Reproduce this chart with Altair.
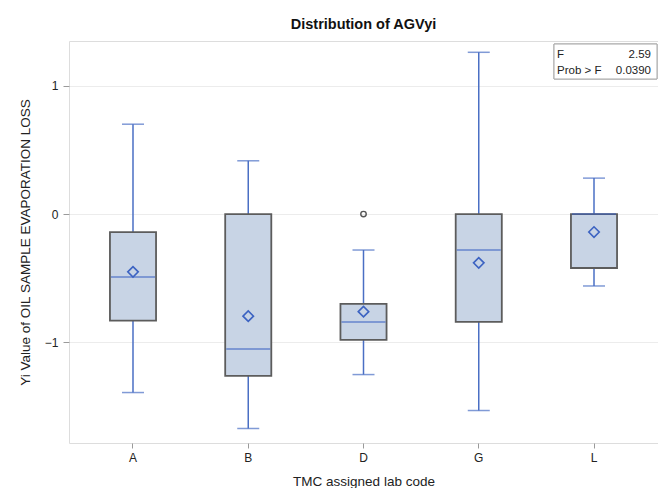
import altair as alt
import pandas as pd

# ---- data ----
labs = ["A", "B", "D", "G", "L"]
whisker_lo = [-1.39, -1.67, -1.25, -1.53, -0.56]
q1 = [-0.83, -1.26, -0.98, -0.84, -0.42]
median = [-0.49, -1.05, -0.84, -0.28, 0.0]
q3 = [-0.14, 0.0, -0.70, 0.0, 0.0]
whisker_hi = [0.70, 0.415, -0.28, 1.26, 0.28]
means = [-0.45, -0.795, -0.76, -0.38, -0.14]
outlier_labs = ["D"]
outlier_vals = [0.0]
stat_names = ["F", "Prob > F"]
stat_values = ["2.59", "0.0390"]
y_ticks = [-1, 0, 1]

df = pd.DataFrame({
    "lab": labs, "lo": whisker_lo, "q1": q1, "med": median,
    "q3": q3, "hi": whisker_hi, "mean": means,
})
out_df = pd.DataFrame({"lab": outlier_labs, "val": outlier_vals})
stats_df = pd.DataFrame({"name": stat_names, "value": stat_values})

FONT = "Liberation Sans"
BLUE = "#4a6fc4"
MED = "#3c63c2"
FILL = "#c8d4e5"
EDGE = "#5c5c5c"

xscale = alt.Scale(paddingInner=0, paddingOuter=0.0553)
yscale = alt.Scale(domain=[-1.783, 1.348], nice=False, zero=False)

X = alt.X("lab:N", scale=xscale, sort=labs,
          axis=alt.Axis(title="TMC assigned lab code", labelAngle=0,
                        domain=False, ticks=True, tickSize=5,
                        tickColor="#9a9a9a", labelPadding=4,
                        labelFontSize=12, titleFontSize=13.5,
                        titleFontWeight="normal", titlePadding=11,
                        labelColor="#222", titleColor="#222"))

base = alt.Chart(df)

whisk = base.mark_rule(color=BLUE, strokeWidth=1.5).encode(
    x=X,
    y=alt.Y("lo:Q", scale=yscale,
            axis=alt.Axis(title="Yi Value of OIL SAMPLE EVAPORATION LOSS",
                          values=y_ticks, format="d", domain=False,
                          grid=True, gridColor="#ececec", ticks=True,
                          tickSize=6, tickColor="#9a9a9a", labelPadding=5,
                          labelFontSize=12, titleFontSize=13.5,
                          titleFontWeight="normal", titlePadding=12,
                          labelColor="#222", titleColor="#222")),
    y2="hi:Q",
)

box = base.mark_bar(width={"band": 0.4}, fill=FILL, stroke=EDGE,
                    strokeWidth=1.8).encode(
    x=X, y=alt.Y("q1:Q", scale=yscale), y2="q3:Q")

med = base.mark_tick(size=44, thickness=1.5, color=MED).encode(
    x=X, y=alt.Y("med:Q", scale=yscale))

cap_lo = base.mark_tick(size=22, thickness=1.5, color=BLUE).encode(
    x=X, y=alt.Y("lo:Q", scale=yscale))
cap_hi = base.mark_tick(size=22, thickness=1.5, color=BLUE).encode(
    x=X, y=alt.Y("hi:Q", scale=yscale))

mean_pt = base.mark_point(shape="diamond", size=110, filled=False,
                          stroke=MED, strokeWidth=1.6, opacity=1).encode(
    x=X, y=alt.Y("mean:Q", scale=yscale))

outl = alt.Chart(out_df).mark_point(shape="circle", size=30, filled=False,
                                    stroke="#555555", strokeWidth=1.4,
                                    opacity=1).encode(
    x=alt.X("lab:N", scale=xscale, sort=labs),
    y=alt.Y("val:Q", scale=yscale))

inset_box = alt.Chart(stats_df).mark_rect(
    fill="white", stroke="#a8a8a8", strokeWidth=1).encode(
    x=alt.value(485), x2=alt.value(588), y=alt.value(3), y2=alt.value(38))

row_y = [16.5, 33]
inset_layers = []
for i, nm in enumerate(stat_names):
    sub = stats_df[stats_df["name"] == nm]
    inset_layers.append(
        alt.Chart(sub).mark_text(align="left", baseline="alphabetic",
                                 font=FONT, fontSize=11.5, color="#222").encode(
            x=alt.value(488), y=alt.value(row_y[i]), text="name:N"))
    inset_layers.append(
        alt.Chart(sub).mark_text(align="right", baseline="alphabetic",
                                 font=FONT, fontSize=11.5, color="#222").encode(
            x=alt.value(582), y=alt.value(row_y[i]), text="value:N"))

chart = alt.layer(whisk, box, med, cap_lo, cap_hi, mean_pt, outl,
                  inset_box, *inset_layers).properties(
    width=589, height=402,
    title=alt.TitleParams("Distribution of AGVyi", fontSize=14.5,
                          fontWeight="bold", font=FONT, anchor="middle",
                          offset=9, color="#111"),
    autosize=alt.AutoSizeParams(type="none"),
    padding={"left": 61, "top": 33, "right": 0, "bottom": 45},
    background="white",
).configure_view(stroke="#9a9a9a", strokeWidth=1).configure(
    font=FONT)

chart.save("out.html", embed_options={"renderer": "svg", "actions": False})
